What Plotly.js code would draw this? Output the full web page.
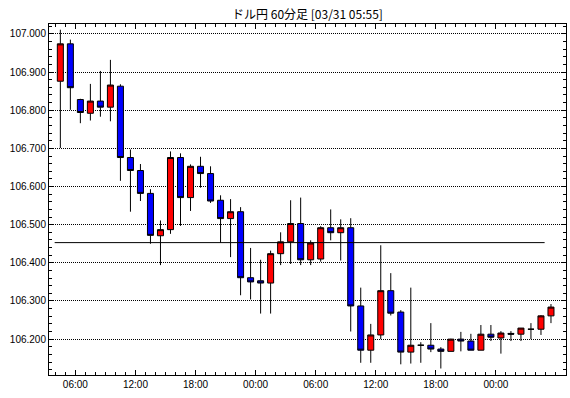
<!DOCTYPE html>
<html>
<head>
<meta charset="utf-8">
<script src="https://cdn.plot.ly/plotly-3.0.1.min.js"></script>
<style>html,body{margin:0;padding:0;background:#fff;}#chart{width:570px;height:398px;}</style>
</head>
<body>
<div id="chart"></div>
<script>
const times = [
"2017-03-29 04:30","2017-03-29 05:30","2017-03-29 06:30","2017-03-29 07:30","2017-03-29 08:30",
"2017-03-29 09:30","2017-03-29 10:30","2017-03-29 11:30","2017-03-29 12:30","2017-03-29 13:30",
"2017-03-29 14:30","2017-03-29 15:30","2017-03-29 16:30","2017-03-29 17:30","2017-03-29 18:30",
"2017-03-29 19:30","2017-03-29 20:30","2017-03-29 21:30","2017-03-29 22:30","2017-03-29 23:30",
"2017-03-30 00:30","2017-03-30 01:30","2017-03-30 02:30","2017-03-30 03:30","2017-03-30 04:30",
"2017-03-30 05:30","2017-03-30 06:30","2017-03-30 07:30","2017-03-30 08:30","2017-03-30 09:30",
"2017-03-30 10:30","2017-03-30 11:30","2017-03-30 12:30","2017-03-30 13:30","2017-03-30 14:30",
"2017-03-30 15:30","2017-03-30 16:30","2017-03-30 17:30","2017-03-30 18:30","2017-03-30 19:30",
"2017-03-30 20:30","2017-03-30 21:30","2017-03-30 22:30","2017-03-30 23:30","2017-03-31 00:30",
"2017-03-31 01:30","2017-03-31 02:30","2017-03-31 03:30","2017-03-31 04:30","2017-03-31 05:30"
];
const openV = [
106.876,106.974,106.828,106.792,106.824,106.808,106.863,106.676,106.642,106.582,
106.471,106.487,106.676,106.571,106.653,106.634,106.564,106.516,106.534,106.361,
106.353,106.347,106.424,106.455,106.503,106.408,106.410,106.492,106.479,106.492,
106.287,106.171,106.211,106.327,106.271,106.166,106.184,106.184,106.174,106.168,
106.200,106.195,106.171,106.213,106.203,106.215,106.213,106.226,106.226,106.261
];
const highV = [
107.011,106.985,106.830,106.869,106.903,106.932,106.868,106.697,106.659,106.593,
106.511,106.692,106.687,106.658,106.678,106.653,106.577,106.567,106.546,106.439,
106.408,106.432,106.480,106.564,106.571,106.459,106.496,106.540,106.514,106.517,
106.335,106.240,106.446,106.373,106.276,106.335,106.192,106.242,106.179,106.201,
106.219,106.214,106.237,106.237,106.221,106.221,106.229,106.242,106.263,106.292
];
const lowV = [
106.701,106.801,106.766,106.773,106.783,106.771,106.615,106.534,106.562,106.450,
106.394,106.476,106.497,106.536,106.597,106.557,106.453,106.415,106.315,106.304,
106.267,106.267,106.394,106.397,106.394,106.394,106.403,106.459,106.406,106.220,
106.138,106.138,106.200,106.262,106.134,106.136,106.138,106.166,106.123,106.168,
106.168,106.171,106.171,106.195,106.162,106.195,106.195,106.200,106.211,106.242
];
const closeV = [
106.974,106.859,106.794,106.824,106.808,106.866,106.676,106.642,106.582,106.472,
106.487,106.676,106.571,106.653,106.634,106.562,106.516,106.534,106.361,106.350,
106.347,106.424,106.455,106.503,106.408,106.452,106.492,106.479,106.492,106.287,
106.171,106.211,106.327,106.268,106.166,106.184,106.184,106.174,106.168,106.200,
106.195,106.171,106.213,106.205,106.216,106.213,106.229,106.226,106.261,106.284
];
const xTickVals = [
"2017-03-29 06:00","2017-03-29 12:00","2017-03-29 18:00","2017-03-30 00:00",
"2017-03-30 06:00","2017-03-30 12:00","2017-03-30 18:00","2017-03-31 00:00"
];
const xTickText = ["06:00","12:00","18:00","00:00","06:00","12:00","18:00","00:00"];
const refLineX = ["2017-03-29 03:56", "2017-03-31 04:52"];
const refLineY = [106.453, 106.453];
const titleText = "ドル円 60分足 [03/31 05:55]";

const traces = [
  {
    type: 'candlestick', x: times, open: openV, high: highV, low: lowV, close: closeV,
    increasing: {fillcolor: '#ff0000', line: {color: '#000000', width: 1}},
    decreasing: {fillcolor: '#0000ff', line: {color: '#000000', width: 1}},
    whiskerwidth: 0, hoverinfo: 'skip'
  },
  {
    type: 'scatter', mode: 'lines', x: refLineX, y: refLineY,
    line: {color: '#000000', width: 1}, hoverinfo: 'skip'
  }
];

const tickFont = {family: 'Liberation Sans, Arial, sans-serif', size: 10, color: '#000'};
const layout = {
  width: 570, height: 398,
  margin: {l: 49, r: 4, t: 24, b: 23, pad: 0},
  paper_bgcolor: '#fff', plot_bgcolor: '#fff',
  showlegend: false,
  boxgap: 0.4, boxgroupgap: 0,
  title: {
    text: titleText, x: 0.5, xref: 'paper', xanchor: 'center',
    y: 1 - 15/398, yref: 'container', yanchor: 'middle',
    font: {family: 'Noto Sans CJK JP, sans-serif', size: 12, color: '#000'}
  },
  xaxis: {
    type: 'date',
    range: ["2017-03-29 03:22", "2017-03-31 07:00"],
    rangeslider: {visible: false},
    tickmode: 'array', tickvals: xTickVals, ticktext: xTickText,
    ticks: 'inside', ticklen: 5, tickcolor: '#000', tickwidth: 1,
    minor: {tickmode: 'linear', dtick: 3600000, tick0: "2017-03-29 00:00", ticks: 'inside', ticklen: 3, tickcolor: '#000', tickwidth: 1, showgrid: false},
    showline: true, linecolor: '#000', linewidth: 1, mirror: 'ticks',
    showgrid: false, zeroline: false,
    tickfont: tickFont
  },
  yaxis: {
    range: [106.106, 107.026],
    tick0: 106, dtick: 0.1, tickformat: '.3f',
    ticks: 'inside', ticklen: 5, tickcolor: '#000', tickwidth: 1,
    minor: {dtick: 0.02, tick0: 106, ticks: 'inside', ticklen: 3, tickcolor: '#000', tickwidth: 1, showgrid: false},
    showline: true, linecolor: '#000', linewidth: 1, mirror: 'ticks',
    showgrid: true, gridcolor: '#000', gridwidth: 1, griddash: '1px,1px',
    zeroline: false,
    tickfont: tickFont
  }
};

Plotly.newPlot('chart', traces, layout, {staticPlot: true, displayModeBar: false});
</script>
</body>
</html>
